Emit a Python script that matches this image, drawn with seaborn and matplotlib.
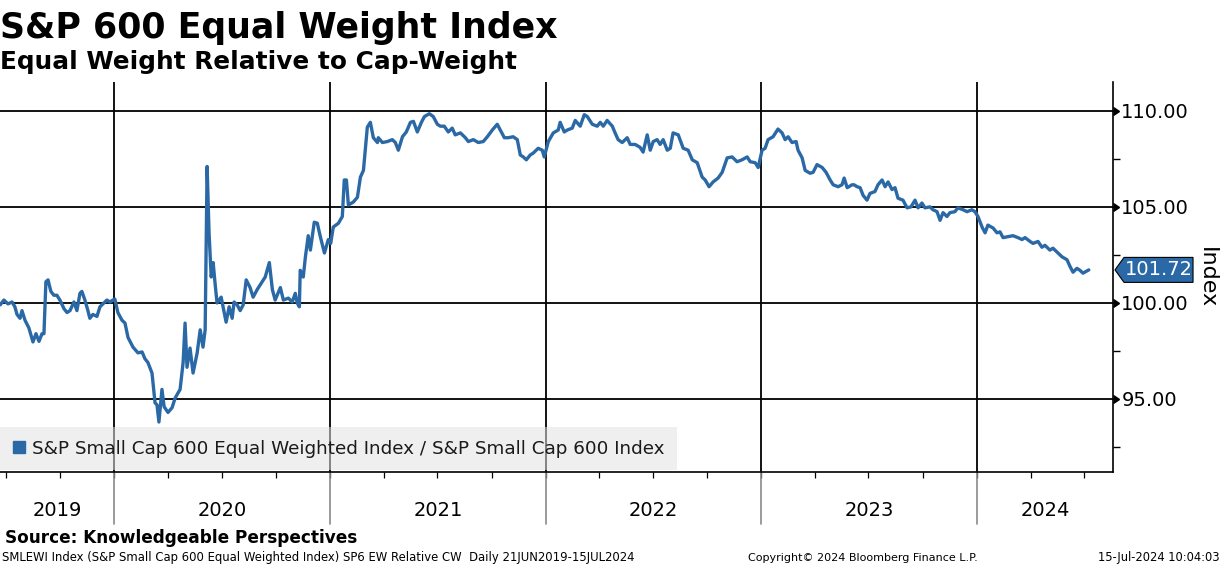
import numpy as np
import pandas as pd
import matplotlib
matplotlib.use("Agg")
import matplotlib.pyplot as plt
import matplotlib.dates as mdates
import matplotlib.transforms as mtransforms
from matplotlib.patches import Polygon
from matplotlib.lines import Line2D
from matplotlib import markers as mmarkers
import seaborn as sns

# ---------------- text ----------------
title = "S&P 600 Equal Weight Index"
subtitle = "Equal Weight Relative to Cap-Weight"
series_name = "S&P Small Cap 600 Equal Weighted Index / S&P Small Cap 600 Index"
axis_label = "Index"
source = "Source: Knowledgeable Perspectives"
footer_left = "SMLEWI Index (S&P Small Cap 600 Equal Weighted Index) SP6 EW Relative CW  Daily 21JUN2019-15JUL2024"
footer_mid = "Copyright\u00a9 2024 Bloomberg Finance L.P."
footer_right = "15-Jul-2024 10:04:03"

# ---------------- data (dates as decimal years) ----------------
t_2019 = [2019.470, 2019.487, 2019.506, 2019.525, 2019.538, 2019.548, 2019.562, 2019.571, 2019.585, 2019.603,
          2019.622, 2019.636, 2019.650, 2019.664, 2019.673, 2019.682, 2019.692, 2019.705, 2019.719, 2019.733,
          2019.747, 2019.766, 2019.780, 2019.794, 2019.812, 2019.826, 2019.840, 2019.849, 2019.863, 2019.877,
          2019.886, 2019.900, 2019.919, 2019.933, 2019.951, 2019.965, 2019.979, 2019.993]
v_2019 = [99.9, 100.15, 99.95, 100.05, 99.8, 99.4, 99.2, 99.6, 99.1, 98.7,
          97.97, 98.4, 98.0, 98.4, 98.4, 101.1, 101.2, 100.6, 100.4, 100.4,
          100.15, 99.7, 99.5, 99.6, 100.05, 99.6, 100.5, 100.6, 100.15, 99.6,
          99.2, 99.4, 99.3, 99.8, 100.0, 100.15, 100.05, 100.15]

t_2020 = [2020.002, 2020.016, 2020.035, 2020.049, 2020.063, 2020.086, 2020.109, 2020.128, 2020.141, 2020.155,
          2020.174, 2020.188, 2020.197, 2020.206, 2020.220, 2020.230, 2020.248, 2020.267, 2020.281, 2020.304,
          2020.318, 2020.327, 2020.336, 2020.350, 2020.364, 2020.383, 2020.397, 2020.410, 2020.420, 2020.429,
          2020.438, 2020.448, 2020.457, 2020.466, 2020.475, 2020.494, 2020.503, 2020.517, 2020.531, 2020.545,
          2020.554, 2020.568, 2020.582, 2020.596, 2020.610, 2020.628, 2020.642, 2020.661, 2020.684, 2020.698,
          2020.717, 2020.731, 2020.744, 2020.768, 2020.782, 2020.805, 2020.823, 2020.837, 2020.846, 2020.856,
          2020.860, 2020.874, 2020.884, 2020.897, 2020.907, 2020.925, 2020.939, 2020.953, 2020.972, 2020.990]
v_2020 = [100.2, 99.5, 99.1, 98.95, 98.2, 97.7, 97.4, 97.45, 97.1, 96.9,
          96.35, 94.8, 94.7, 93.8, 95.5, 94.6, 94.3, 94.55, 95.05, 95.5,
          96.9, 98.95, 96.65, 97.65, 96.35, 97.4, 98.6, 97.7, 98.6, 107.1,
          103.65, 101.35, 102.1, 101.0, 100.0, 100.3, 99.8, 99.0, 99.8, 99.2,
          100.05, 99.9, 99.6, 99.9, 101.2, 100.8, 100.3, 100.7, 101.1, 101.35,
          102.1, 100.7, 100.15, 100.8, 100.15, 100.25, 100.05, 100.5, 100.0, 99.8,
          101.7, 101.35, 102.4, 103.5, 102.75, 104.2, 104.15, 103.45, 102.6, 103.3]

t_2021 = [2021.001, 2021.013, 2021.037, 2021.055, 2021.064, 2021.074, 2021.083, 2021.106, 2021.125, 2021.139,
          2021.153, 2021.171, 2021.185, 2021.199, 2021.218, 2021.222, 2021.241, 2021.264, 2021.287, 2021.301,
          2021.315, 2021.334, 2021.352, 2021.371, 2021.385, 2021.403, 2021.422, 2021.436, 2021.459, 2021.477,
          2021.496, 2021.510, 2021.528, 2021.547, 2021.565, 2021.579, 2021.603, 2021.626, 2021.640, 2021.663,
          2021.686, 2021.709, 2021.728, 2021.751, 2021.774, 2021.788, 2021.807, 2021.825, 2021.848, 2021.867,
          2021.881, 2021.895, 2021.909, 2021.927, 2021.941, 2021.964, 2021.983, 2021.992]
v_2021 = [103.1, 103.95, 104.15, 104.5, 106.4, 106.4, 105.1, 105.25, 105.5, 106.55,
          106.9, 109.15, 109.4, 108.6, 108.35, 108.6, 108.35, 108.4, 108.5, 108.35,
          107.95, 108.65, 108.9, 109.4, 109.45, 108.9, 109.4, 109.7, 109.85, 109.7,
          109.3, 109.2, 109.2, 108.9, 109.1, 108.75, 108.85, 108.6, 108.4, 108.5,
          108.35, 108.4, 108.65, 109.0, 109.3, 109.0, 108.6, 108.6, 108.65, 108.5,
          107.7, 107.6, 107.45, 107.7, 107.8, 108.05, 107.95, 107.6]

t_2022 = [2022.011, 2022.034, 2022.057, 2022.066, 2022.085, 2022.099, 2022.122, 2022.136, 2022.159, 2022.178,
          2022.192, 2022.215, 2022.238, 2022.252, 2022.266, 2022.284, 2022.308, 2022.321, 2022.335, 2022.354,
          2022.377, 2022.391, 2022.414, 2022.437, 2022.451, 2022.470, 2022.484, 2022.498, 2022.516, 2022.530,
          2022.544, 2022.563, 2022.577, 2022.590, 2022.614, 2022.637, 2022.660, 2022.679, 2022.702, 2022.725,
          2022.739, 2022.757, 2022.776, 2022.799, 2022.818, 2022.841, 2022.864, 2022.887, 2022.910, 2022.934,
          2022.948, 2022.971, 2022.985]
v_2022 = [108.4, 108.85, 109.0, 109.4, 108.9, 109.0, 109.1, 109.5, 109.2, 109.8,
          109.7, 109.3, 109.2, 109.4, 109.2, 109.5, 109.2, 108.85, 108.5, 108.35,
          108.6, 108.25, 108.25, 108.1, 107.85, 108.75, 107.95, 108.4, 108.5, 108.25,
          108.5, 107.95, 108.05, 108.85, 108.75, 108.05, 107.95, 107.45, 107.3, 106.55,
          106.4, 106.05, 106.3, 106.5, 106.8, 107.55, 107.6, 107.35, 107.45, 107.6,
          107.35, 107.3, 107.05]

t_2023 = [2023.003, 2023.017, 2023.031, 2023.054, 2023.077, 2023.096, 2023.110, 2023.124, 2023.142, 2023.161,
          2023.170, 2023.189, 2023.203, 2023.226, 2023.240, 2023.258, 2023.282, 2023.300, 2023.319, 2023.333,
          2023.356, 2023.374, 2023.384, 2023.398, 2023.421, 2023.430, 2023.444, 2023.458, 2023.472, 2023.490,
          2023.504, 2023.527, 2023.541, 2023.560, 2023.574, 2023.588, 2023.606, 2023.620, 2023.634, 2023.657,
          2023.676, 2023.694, 2023.713, 2023.727, 2023.745, 2023.759, 2023.782, 2023.796, 2023.815, 2023.829,
          2023.843, 2023.861, 2023.875, 2023.898, 2023.912, 2023.936, 2023.954, 2023.977, 2023.991]
v_2023 = [107.95, 108.05, 108.5, 108.65, 109.05, 108.85, 108.5, 108.65, 108.35, 108.4,
          107.95, 107.55, 106.9, 106.75, 106.8, 107.2, 107.05, 106.8, 106.4, 106.15,
          106.05, 106.15, 106.5, 106.0, 106.15, 106.15, 106.05, 106.0, 105.6, 105.35,
          105.7, 105.8, 106.15, 106.4, 106.05, 106.3, 105.9, 106.0, 105.45, 105.35,
          104.95, 105.0, 105.35, 104.95, 105.2, 104.95, 105.0, 104.85, 104.75, 104.3,
          104.7, 104.5, 104.7, 104.75, 104.95, 104.85, 104.75, 104.85, 104.75]

t_2024 = [2024.005, 2024.024, 2024.038, 2024.051, 2024.075, 2024.093, 2024.107, 2024.121, 2024.144, 2024.167,
          2024.190, 2024.209, 2024.223, 2024.246, 2024.260, 2024.283, 2024.301, 2024.315, 2024.338, 2024.352,
          2024.371, 2024.394, 2024.417, 2024.431, 2024.445, 2024.463, 2024.477, 2024.491, 2024.518]
v_2024 = [104.5, 103.95, 103.65, 104.05, 103.9, 103.65, 103.7, 103.4, 103.45, 103.5,
          103.4, 103.3, 103.4, 103.2, 103.1, 103.2, 102.9, 103.0, 102.75, 102.85,
          102.65, 102.4, 102.25, 101.9, 101.6, 101.8, 101.7, 101.55, 101.72]

y_major = [95, 100, 105, 110]
y_minor = [92.5, 97.5, 102.5, 107.5]
year_labels = ["2019", "2020", "2021", "2022", "2023", "2024"]
x_start, x_end = 2019.469, 2024.630
y_lo, y_hi = 91.2, 111.5

# ---------------- helpers ----------------
def dec_to_ts(d):
    y = int(np.floor(d))
    a = pd.Timestamp(year=y, month=1, day=1)
    b = pd.Timestamp(year=y + 1, month=1, day=1)
    return a + (b - a) * (d - y)

times = t_2019 + t_2020 + t_2021 + t_2022 + t_2023 + t_2024
vals = v_2019 + v_2020 + v_2021 + v_2022 + v_2023 + v_2024
df = pd.DataFrame({"date": [dec_to_ts(t) for t in times], "value": vals})

BLUE = "#2b69a6"
sns.set_theme(style="white")
plt.rcParams["font.family"] = ["DejaVu Sans"]

W, H = 1224, 566
fig = plt.figure(figsize=(W / 100, H / 100), dpi=100)
ax = fig.add_axes([0, 1 - 472 / H, 1113 / W, (472 - 82) / H])

sns.lineplot(data=df, x="date", y="value", ax=ax, color=BLUE, linewidth=2.4, legend=False, zorder=5)

xmin, xmax = dec_to_ts(x_start), dec_to_ts(x_end)
ax.set_xlim(xmin, xmax)
ax.set_ylim(y_lo, y_hi)
ax.set_xlabel("")
ax.set_ylabel("")

# spines
for s in ["left", "top"]:
    ax.spines[s].set_visible(False)
for s in ["right", "bottom"]:
    ax.spines[s].set_visible(True)
    ax.spines[s].set_color("black")
    ax.spines[s].set_linewidth(1.2)

# y axis on the right
ax.yaxis.tick_right()
ax.set_yticks(y_major)
ax.set_yticks(y_minor, minor=True)
ax.set_yticklabels([f"{v:.2f}" for v in y_major])
ax.tick_params(axis="y", which="major", right=True, left=False, labelright=True, labelleft=False,
               length=3, width=1.2, color="black", pad=3, labelsize=14, labelcolor="black")
ax.tick_params(axis="y", which="minor", right=True, left=False, length=5, width=1, color="black")
ax.yaxis.grid(True, which="major", color="black", linewidth=1.3)
ax.xaxis.grid(False)

# arrow heads on the major y ticks
yblend = mtransforms.blended_transform_factory(ax.transAxes, ax.transData)
ax.plot([1.0] * len(y_major), y_major, linestyle="none", marker=mmarkers.CARETRIGHTBASE,
        markersize=6, color="black", transform=yblend, clip_on=False, zorder=6)

# x axis: quarterly minor ticks, year separators and centered year labels
years = [int(y) for y in year_labels]
quarters = []
for y in years:
    for m in (1, 4, 7, 10):
        d = pd.Timestamp(year=y, month=m, day=1)
        if xmin < d < xmax:
            quarters.append(d)
ax.set_xticks([])
ax.set_xticks(quarters, minor=True)
ax.tick_params(axis="x", which="minor", bottom=True, length=4, width=0.9, color="black", direction="out")

xblend = mtransforms.blended_transform_factory(ax.transData, ax.transAxes)
bounds = [pd.Timestamp(year=y, month=1, day=1) for y in years[1:]]
for b in bounds:
    ax.axvline(b, color="black", linewidth=1.3, zorder=1)
    bn = mdates.date2num(b)
    ax.plot([bn, bn], [-0.133, 0], color="#8a8a8a", linewidth=1.2, transform=xblend, clip_on=False)

edges = [xmin] + bounds + [xmax]
for i, lab in enumerate(year_labels):
    c = mdates.date2num(edges[i]) + (mdates.date2num(edges[i + 1]) - mdates.date2num(edges[i])) / 2
    ax.text(c, -0.10, lab, transform=xblend, ha="center", va="center", fontsize=14, color="black")

# legend
handles = [Line2D([], [], marker="s", color=BLUE, linestyle="none", markersize=9)]
leg = ax.legend(handles, [series_name], loc="lower left", bbox_to_anchor=(0, 0.004), borderaxespad=0,
                frameon=True, fancybox=False, facecolor="#e2e2e2", edgecolor="none", framealpha=0.55,
                fontsize=13.2, handlelength=0.7, handletextpad=0.35, borderpad=0.7)
for t in leg.get_texts():
    t.set_color("#1a1a1a")
leg.set_zorder(7)

# last value tag
last = vals[-1]
h = 0.65
tag = Polygon([(1.0018, last), (1.0099, last + h), (1.0719, last + h), (1.0719, last - h), (1.0099, last - h)],
              closed=True, facecolor=BLUE, edgecolor="black", linewidth=0.8, transform=yblend, clip_on=False, zorder=8)
ax.add_patch(tag)
ax.text(1.0409, last, f"{last:.2f}", transform=yblend, ha="center", va="center", color="white",
        fontsize=14, zorder=9, clip_on=False)

# texts
fig.text(1207 / W, 1 - 278 / H, axis_label, rotation=270, ha="center", va="center", fontsize=16, color="black")
fig.text(0.0, 1 - 38 / H, title, ha="left", va="baseline", fontsize=25, fontweight="bold", color="black")
fig.text(0.0, 1 - 69 / H, subtitle, ha="left", va="baseline", fontsize=17.8, fontweight="bold", color="black")
fig.text(5 / W, 1 - 543 / H, source, ha="left", va="baseline", fontsize=12.2, fontweight="bold", color="black")
fig.text(2 / W, 1 - 561 / H, footer_left, ha="left", va="baseline", fontsize=8.4, color="black")
fig.text(748 / W, 1 - 561 / H, footer_mid, ha="left", va="baseline", fontsize=8, color="black")
fig.text(1220 / W, 1 - 561 / H, footer_right, ha="right", va="baseline", fontsize=8.3, color="black")

fig.savefig("out.png", dpi=100, facecolor="white")
